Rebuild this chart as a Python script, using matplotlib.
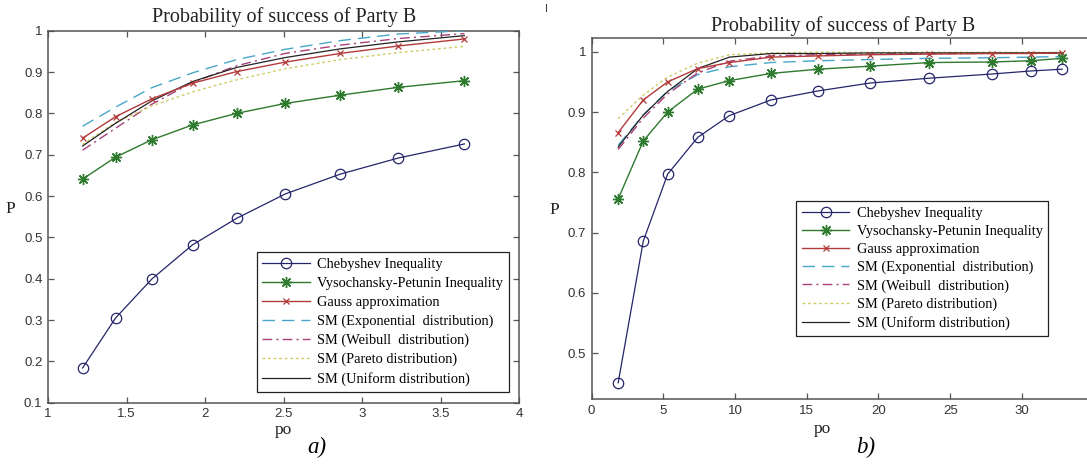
import matplotlib
import matplotlib.pyplot as plt
from matplotlib.lines import Line2D

plt.switch_backend('agg')

# ---- data, panel a)
po_a = [1.22, 1.43, 1.66, 1.92, 2.20, 2.51, 2.86, 3.23, 3.65]
cheb_a = [0.184, 0.305, 0.399, 0.482, 0.546, 0.605, 0.653, 0.692, 0.726]
vp_a = [0.641, 0.694, 0.736, 0.772, 0.800, 0.824, 0.844, 0.863, 0.879]
gauss_a = [0.740, 0.792, 0.835, 0.873, 0.901, 0.924, 0.945, 0.963, 0.980]
expo_a = [0.769, 0.815, 0.862, 0.898, 0.930, 0.955, 0.976, 0.992, 1.000]
weib_a = [0.711, 0.764, 0.822, 0.875, 0.915, 0.945, 0.965, 0.981, 0.993]
pareto_a = [0.725, 0.778, 0.818, 0.852, 0.881, 0.908, 0.930, 0.947, 0.962]
unif_a = [0.721, 0.776, 0.830, 0.877, 0.911, 0.935, 0.956, 0.973, 0.988]

# ---- data, panel b)
po_b = [1.85, 3.6, 5.3, 7.4, 9.6, 12.5, 15.8, 19.4, 23.5, 27.9, 30.6, 32.8]
cheb_b = [0.451, 0.686, 0.797, 0.858, 0.894, 0.920, 0.935, 0.948, 0.956, 0.963, 0.968, 0.971]
vp_b = [0.756, 0.852, 0.900, 0.938, 0.952, 0.964, 0.971, 0.976, 0.982, 0.983, 0.985, 0.989]
gauss_b = [0.866, 0.920, 0.950, 0.972, 0.982, 0.991, 0.993, 0.995, 0.996, 0.997, 0.997, 0.998]
expo_b = [0.845, 0.895, 0.935, 0.962, 0.975, 0.982, 0.985, 0.987, 0.989, 0.990, 0.991, 0.992]
weib_b = [0.838, 0.890, 0.930, 0.965, 0.984, 0.993, 0.995, 0.996, 0.997, 0.997, 0.998, 0.998]
pareto_b = [0.889, 0.928, 0.958, 0.981, 0.995, 0.998, 0.999, 0.999, 0.999, 0.999, 0.999, 0.999]
unif_b = [0.842, 0.895, 0.934, 0.972, 0.991, 0.997, 0.997, 0.998, 0.998, 0.998, 0.998, 0.998]

labels = ['Chebyshev Inequality', 'Vysochansky-Petunin Inequality', 'Gauss approximation',
          'SM (Exponential  distribution)', 'SM (Weibull  distribution)',
          'SM (Pareto distribution)', 'SM (Uniform distribution)']

SERIF = ['Liberation Serif', 'DejaVu Serif']
SANS = ['Liberation Sans', 'DejaVu Sans']
plt.rcParams['font.family'] = SANS

spine_col = '#555555'
text_col = '#222222'


def draw_panel(ax, po, series, xlim, ylim, xticks, yticks, ytl, leg_loc, leg_anchor, leg_sp):
    cheb, vp, gauss, expo, weib, pareto, unif = series
    ax.plot(po, expo, color='#48a6c8', lw=1.0, dashes=(9, 5), label=labels[3], zorder=3)
    ax.plot(po, weib, color='#a8407a', lw=1.0, dashes=(7, 3, 1.5, 3), label=labels[4], zorder=3)
    ax.plot(po, pareto, color='#cfcc66', lw=1.0, dashes=(2, 2), label=labels[5], zorder=3)
    ax.plot(po, unif, color='#222222', lw=0.9, label=labels[6], zorder=3)
    ax.plot(po, gauss, color='#b23a3a', lw=1.0, marker='x', ms=5, mew=0.9, label=labels[2], zorder=4)
    ax.plot(po, vp, color='#2e7a2e', lw=1.0, marker=(8, 2, 0), ms=8, mew=1.0, label=labels[1], zorder=4)
    ax.plot(po, cheb, color='#25256b', lw=0.9, marker='o', ms=7.5, mfc='none', mew=0.9,
            label=labels[0], zorder=4)

    ax.set_xlim(*xlim)
    ax.set_ylim(*ylim)
    ax.set_xticks(xticks)
    ax.set_xticklabels([('%g' % t) for t in xticks])
    ax.set_yticks(yticks)
    ax.set_yticklabels(ytl)
    ax.tick_params(direction='in', length=4, width=0.9, color=spine_col, top=True, right=True,
                   labelsize=9.5, labelcolor='#333333', pad=4)
    for sp in ax.spines.values():
        sp.set_color(spine_col)
        sp.set_linewidth(1.1)
    ax.set_xlabel('po', fontsize=12.5, family=SERIF, labelpad=1, color=text_col)
    ax.set_ylabel('P', fontsize=12.5, family=SERIF, rotation=0, labelpad=10, color=text_col)

    h, l = ax.get_legend_handles_labels()
    order = [6, 5, 4, 0, 1, 2, 3]
    leg = ax.legend([h[i] for i in order], [l[i] for i in order], loc=leg_loc, bbox_to_anchor=leg_anchor,
                    borderaxespad=0, fancybox=False, framealpha=1, edgecolor='#222222',
                    prop={'family': SERIF, 'size': 10.4}, handlelength=3.3, handletextpad=0.5,
                    labelspacing=leg_sp, borderpad=0.4)
    leg.get_frame().set_linewidth(0.9)


fig = plt.figure(figsize=(10.87, 4.75), dpi=100)
ax_a = fig.add_axes([0.0442, 0.1522, 0.4336, 0.7832])
ax_b = fig.add_axes([0.5443, 0.1594, 0.4618, 0.7612])

draw_panel(ax_a, po_a, [cheb_a, vp_a, gauss_a, expo_a, weib_a, pareto_a, unif_a],
           (1, 4), (0.1, 1), [1, 1.5, 2, 2.5, 3, 3.5, 4],
           [0.1, 0.2, 0.3, 0.4, 0.5, 0.6, 0.7, 0.8, 0.9, 1],
           ['0.1', '0.2', '0.3', '0.4', '0.5', '0.6', '0.7', '0.8', '0.9', '1'],
           'lower right', (0.978, 0.029), 0.4)
ax_a.set_title('Probability of success of Party B', fontsize=14.5, family=SERIF, pad=6, color=text_col)

draw_panel(ax_b, po_b, [cheb_b, vp_b, gauss_b, expo_b, weib_b, pareto_b, unif_b],
           (0, 35), (0.4236, 1.0232), [0, 5, 10, 15, 20, 25, 30],
           [0.5, 0.6, 0.7, 0.8, 0.9, 1], ['0.5', '0.6', '0.7', '0.8', '0.9', '1'],
           'upper left', (0.407, 0.549), 0.34)
ax_b.set_title('Probability of success of Party B', fontsize=14.5, family=SERIF, pad=5, color=text_col)
ax_b.xaxis.set_label_coords(0.459, -0.06)

fig.text(0.2916, 0.058, 'a)', fontsize=16.5, family=SERIF, style='italic', ha='center', va='center')
fig.text(0.796, 0.058, 'b)', fontsize=16.5, family=SERIF, style='italic', ha='center', va='center')

# small stray mark above panel b) in the scan
fig.add_artist(Line2D([0.5023, 0.5023], [0.977, 0.991], color='#444444', lw=0.8))

fig.savefig('out.png', dpi=100)
